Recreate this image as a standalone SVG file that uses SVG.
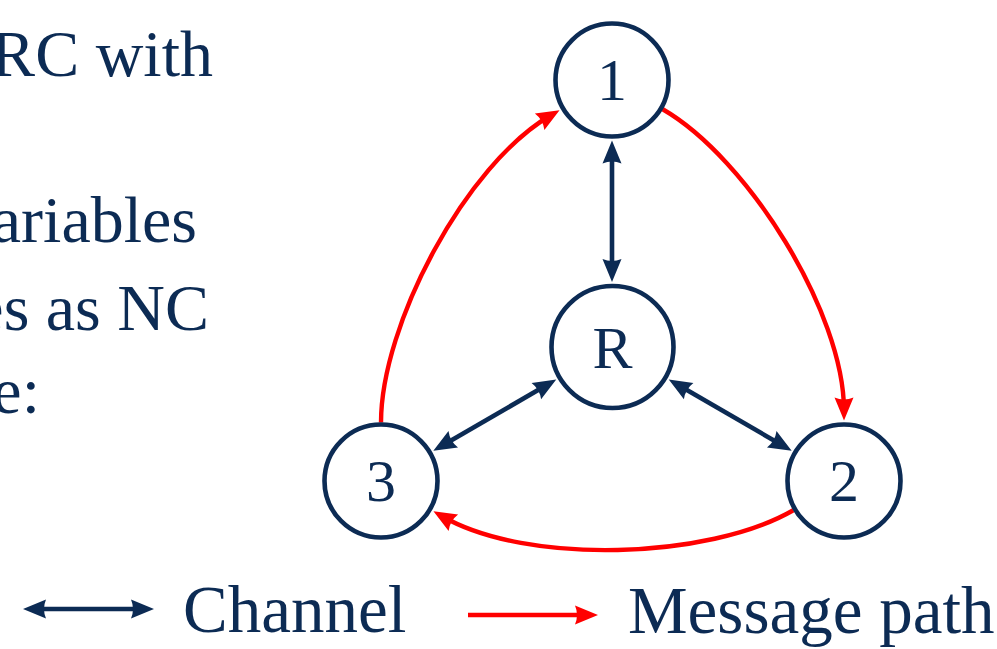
<svg xmlns="http://www.w3.org/2000/svg" width="997" height="649" viewBox="0 0 997 649">
  <defs>
    <style>
      .txt { font-family: "Liberation Serif", "Times New Roman", serif; fill: #0c2b54; }
      .side { font-size: 66px; text-anchor: end; }
      .lbl { font-size: 60px; text-anchor: middle; }
      .leg { font-size: 67px; }
      .node circle { fill: #ffffff; stroke: #0c2b54; stroke-width: 4.6; }
      .chan { stroke: #0c2b54; stroke-width: 4.6; fill: none; marker-start: url(#navyHead); marker-end: url(#navyHead); }
      .msg { stroke: #ff0000; stroke-width: 4.4; fill: none; marker-end: url(#redHead); }
    </style>
    <marker id="navyHead" markerUnits="userSpaceOnUse" markerWidth="40" markerHeight="40" refX="0" refY="0" orient="auto-start-reverse" overflow="visible" viewBox="-20 -20 40 40">
      <path d="M10,0 L-13,-9.5 Q-9,0 -13,9.5 Z" fill="#0c2b54"/>
    </marker>
    <marker id="redHead" markerUnits="userSpaceOnUse" markerWidth="40" markerHeight="40" refX="0" refY="0" orient="auto" overflow="visible" viewBox="-20 -20 40 40">
      <path d="M10,0 L-13,-9.5 Q-9,0 -13,9.5 Z" fill="#ff0000"/>
    </marker>
  </defs>
  <rect width="997" height="649" fill="#ffffff"/>

  <g id="side-text" class="txt side">
    <text x="213" y="76">RC with</text>
    <text x="197" y="242">ariables</text>
    <text x="209" y="330">es as NC</text>
    <text x="40" y="413">e:</text>
  </g>

  <g id="connectors">
    <line class="chan" x1="612" y1="150.5" x2="612" y2="272"/>
    <line class="chan" x1="547.6" y1="384.6" x2="442" y2="445.7"/>
    <line class="chan" x1="677.4" y1="384.6" x2="783" y2="445.7"/>
    <path class="msg" d="M381,422.5 C381,324.5 466,164.25 550.9,115.25"/>
    <path class="msg" d="M662.7,109.25 C747.6,158.25 844,312.5 844,410.5"/>
    <path class="msg" d="M793.3,510.25 C708.4,559.25 527,565.25 442.1,516.25"/>
  </g>

  <g id="node-1" class="node">
    <circle cx="612" cy="80" r="56.5"/>
    <text class="txt lbl" x="612" y="100">1</text>
  </g>
  <g id="node-R" class="node">
    <circle cx="612.5" cy="347" r="61"/>
    <text class="txt lbl" x="612.5" y="368">R</text>
  </g>
  <g id="node-2" class="node">
    <circle cx="844" cy="481" r="56.5"/>
    <text class="txt lbl" x="844" y="501">2</text>
  </g>
  <g id="node-3" class="node">
    <circle cx="381" cy="481" r="56.5"/>
    <text class="txt lbl" x="381" y="501">3</text>
  </g>

  <g id="legend">
    <line class="chan" x1="33" y1="609" x2="144" y2="609"/>
    <text class="txt leg" x="183" y="632">Channel</text>
    <line class="msg" x1="468" y1="615" x2="588" y2="615"/>
    <text class="txt leg" x="628" y="633">Message path</text>
  </g>
</svg>
